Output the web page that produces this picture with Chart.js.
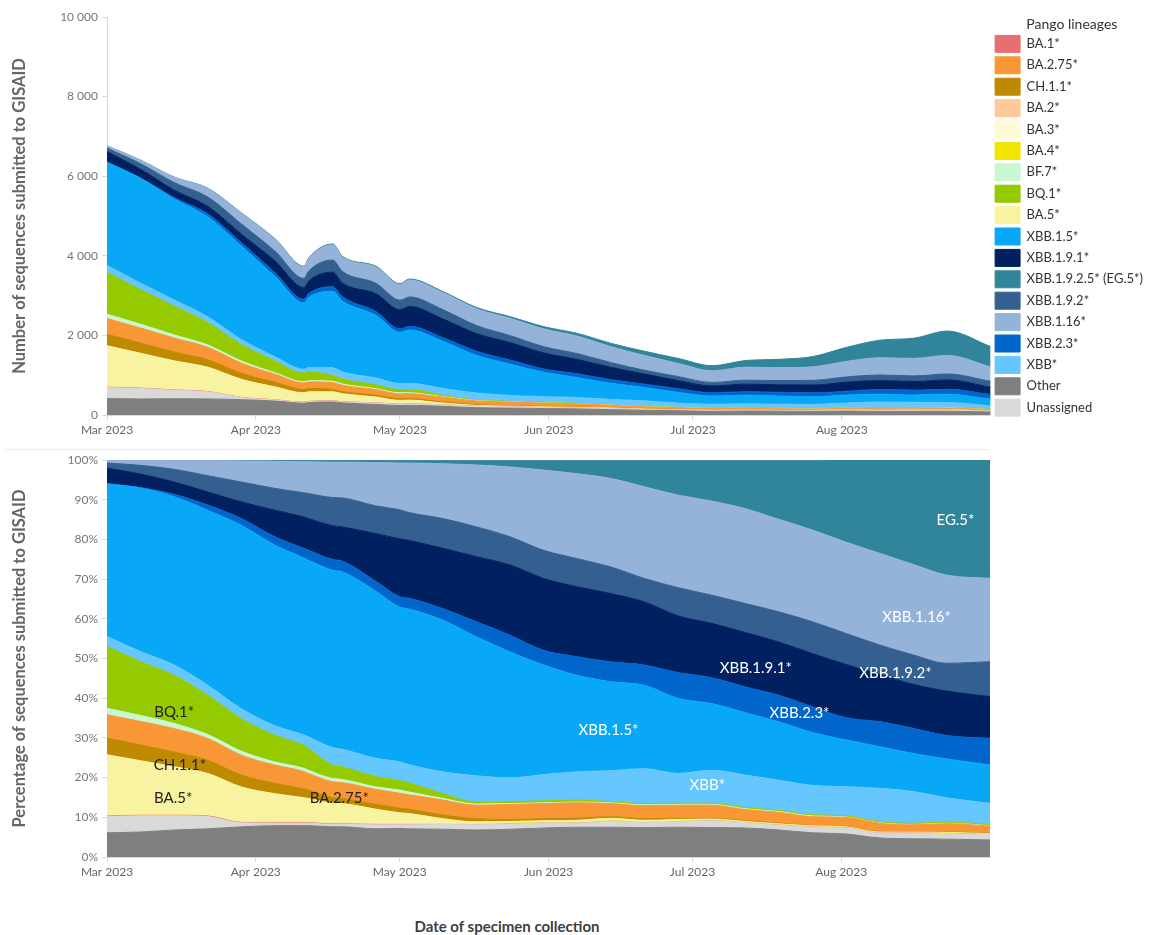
<!DOCTYPE html>
<html>
<head>
<meta charset="utf-8">
<script src="https://cdn.jsdelivr.net/npm/chart.js@4"></script>
<style>
  body { margin: 0; background: #fff; width: 1170px; height: 935px; overflow: hidden; position: relative;
         font-family: Lato, "Liberation Sans", sans-serif; }
  #top { position: absolute; left: 0; top: 0; }
  #bottom { position: absolute; left: 0; top: 445px; }
  #sep { position: absolute; left: 4px; top: 449px; width: 986px; height: 1px; background: #ececec; }
  #xtitle { position: absolute; left: 0; width: 1014px; top: 917px; text-align: center;
            font-size: 15px; font-weight: bold; color: #404040; }
</style>
</head>
<body>
<canvas id="top" width="1170" height="445"></canvas>
<div id="sep"></div>
<canvas id="bottom" width="1000" height="442"></canvas>
<div id="xtitle">Date of specimen collection</div>
<script>
// sample dates, as days since 1 Mar 2023
var days = [0, 7, 14, 21, 28, 35, 41, 42, 47, 49, 56, 61, 63, 70, 77, 84, 91, 98, 105, 112, 119, 126, 133, 140, 147, 154, 161, 168, 175, 184];
var monthTicks = [0, 31, 61, 92, 122, 153];
var monthLabels = ['Mar 2023', 'Apr 2023', 'May 2023', 'Jun 2023', 'Jul 2023', 'Aug 2023'];

// total sequences submitted (top panel envelope)
var totals = [6760, 6400, 5980, 5700, 5080, 4430, 3740, 3950, 4300, 3990, 3740, 3300, 3420, 3100, 2700, 2470, 2220, 2050, 1800, 1600, 1420, 1240, 1370, 1400, 1470, 1700, 1880, 1930, 2110, 1720];

// share of each lineage, % (bottom panel)
var other      = [6.1, 6.3, 6.8, 7.1, 7.6, 7.9, 7.9, 7.9, 7.6, 7.6, 7.1, 7.2, 7.1, 7.0, 6.8, 7.0, 7.3, 7.5, 7.5, 7.4, 7.5, 7.4, 7.3, 6.8, 6.1, 5.8, 4.8, 4.6, 4.5, 4.3];
var unassigned = [4.1, 4.1, 3.6, 3.1, 1.0, 0.6, 0.6, 0.6, 0.6, 0.6, 1.0, 0.9, 1.0, 1.2, 1.3, 1.3, 1.2, 1.0, 1.5, 1.2, 1.3, 1.7, 1.3, 1.2, 1.4, 1.5, 1.2, 1.4, 1.4, 1.3];
var ba1        = [0.1, 0.1, 0.1, 0.1, 0.1, 0.1, 0.1, 0.1, 0.1, 0.1, 0.1, 0.1, 0.1, 0, 0, 0, 0, 0, 0, 0, 0, 0, 0, 0, 0, 0, 0, 0, 0, 0];
var ba2        = [0.05, 0.05, 0.05, 0.05, 0.05, 0.05, 0.05, 0.05, 0.05, 0.05, 0.05, 0.05, 0.05, 0.05, 0.05, 0.05, 0.05, 0.05, 0.05, 0.05, 0.05, 0.05, 0.05, 0.05, 0.05, 0.05, 0.05, 0.05, 0.05, 0.05];
var ba3        = [0, 0, 0, 0, 0, 0, 0, 0, 0, 0, 0, 0, 0, 0, 0, 0, 0, 0, 0, 0, 0, 0, 0, 0, 0, 0, 0, 0, 0, 0];
var ba4        = [0, 0, 0, 0, 0, 0, 0, 0, 0, 0, 0, 0, 0, 0, 0.1, 0.1, 0.1, 0.1, 0.1, 0.1, 0.1, 0.1, 0.1, 0.1, 0.1, 0.1, 0.1, 0.1, 0.1, 0.1];
var ba5        = [15.4, 13.7, 12.2, 10.7, 8.9, 7.3, 6.3, 6.1, 5.2, 5.1, 3.8, 2.9, 2.7, 1.4, 0.6, 0.5, 0.5, 0.6, 0.6, 0.5, 0.5, 0.3, 0.2, 0.2, 0.2, 0.15, 0.15, 0.15, 0.15, 0.15];
var ch11       = [4.2, 4.0, 3.7, 3.3, 3.0, 2.6, 2.2, 2.1, 1.4, 1.3, 1.2, 1.2, 1.1, 0.9, 0.8, 0.5, 0.5, 0.5, 0.4, 0.4, 0.3, 0.2, 0.2, 0.2, 0.1, 0.1, 0.1, 0.1, 0.1, 0.1];
var ba275      = [5.9, 5.9, 5.9, 5.5, 5.0, 4.6, 4.4, 4.2, 4.0, 4.0, 3.8, 3.7, 3.6, 3.8, 3.4, 3.8, 3.8, 3.9, 3.3, 3.3, 3.3, 3.3, 2.8, 2.7, 2.2, 2.3, 2.1, 1.7, 2.1, 1.8];
var bf7        = [1.6, 1.5, 1.3, 1.0, 1.0, 0.8, 0.8, 0.8, 0.8, 0.8, 0.6, 0.8, 0.7, 0.4, 0.3, 0.2, 0.2, 0.2, 0.2, 0.2, 0.2, 0.2, 0.2, 0.2, 0.2, 0.1, 0.1, 0.1, 0.1, 0.1];
var bq1        = [15.6, 13.6, 12.1, 9.9, 8.2, 6.7, 5.8, 5.5, 3.4, 3.2, 2.6, 2.4, 2.3, 1.2, 0.5, 0.5, 0.5, 0.5, 0.3, 0.3, 0.3, 0.3, 0.3, 0.3, 0.3, 0.3, 0.3, 0.3, 0.3, 0.3];
var xbb        = [2.5, 2.5, 2.6, 2.5, 2.5, 2.4, 2.6, 2.9, 4.4, 4.4, 4.6, 4.7, 4.6, 5.5, 6.6, 6.0, 6.6, 7.1, 7.8, 8.8, 7.5, 8.3, 8.2, 7.6, 7.4, 7.3, 8.4, 8.0, 6.1, 5.3];
var xbb15      = [38.4, 41.2, 42.4, 44.1, 46.2, 45.5, 44.6, 44.5, 44.7, 44.7, 42.1, 39.0, 39.2, 38.2, 35.0, 31.7, 27.6, 24.3, 22.4, 21.0, 18.9, 16.8, 15.7, 14.7, 13.3, 11.8, 10.5, 9.6, 9.8, 9.7];
var xbb23      = [0.1, 0.1, 0.6, 1.3, 1.7, 2.1, 2.4, 2.5, 2.7, 2.7, 2.5, 2.6, 2.7, 2.9, 3.8, 4.2, 3.7, 4.7, 5.0, 5.1, 6.5, 6.5, 6.5, 6.7, 6.5, 5.6, 6.3, 6.3, 5.9, 6.7];
var xbb191     = [3.9, 3.4, 3.1, 3.3, 4.2, 6.7, 7.9, 8.0, 8.5, 8.6, 12.0, 14.6, 14.6, 15.2, 16.4, 17.7, 18.1, 17.6, 17.2, 15.9, 14.3, 13.7, 13.7, 13.4, 13.4, 13.4, 11.9, 11.1, 11.2, 10.5];
var xbb192     = [1.3, 2.2, 3.2, 4.1, 5.0, 5.5, 6.1, 6.3, 7.1, 7.3, 7.0, 7.3, 7.0, 7.5, 7.5, 7.1, 7.1, 7.1, 6.7, 5.9, 7.1, 7.1, 7.3, 7.6, 8.0, 7.8, 7.4, 7.4, 7.0, 8.8];
var xbb116     = [0.8, 1.4, 2.3, 3.8, 5.3, 6.8, 7.8, 8.0, 8.9, 9.0, 10.9, 11.8, 12.5, 13.8, 15.6, 17.6, 20.2, 21.4, 22.3, 23.1, 23.3, 23.7, 23.9, 23.3, 23.1, 23.0, 23.1, 22.8, 22.2, 21.0];
var eg5        = [0, 0, 0, 0.1, 0.2, 0.3, 0.4, 0.4, 0.5, 0.5, 0.6, 0.7, 0.7, 0.9, 1.2, 1.7, 2.5, 3.4, 4.6, 6.7, 8.8, 10.3, 12.2, 14.9, 17.6, 20.7, 23.5, 26.3, 29.0, 29.8];

// stacking order, bottom to top
var lineages = [
  { name: 'Other', color: '#7f7f7f', pct: other },
  { name: 'Unassigned', color: '#d9d9d9', pct: unassigned },
  { name: 'BA.1*', color: '#e86f6f', pct: ba1 },
  { name: 'BA.2*', color: '#ffc999', pct: ba2 },
  { name: 'BA.3*', color: '#fffad6', pct: ba3 },
  { name: 'BA.4*', color: '#f0e400', pct: ba4 },
  { name: 'BA.5*', color: '#f8f3a0', pct: ba5 },
  { name: 'CH.1.1*', color: '#bf8900', pct: ch11 },
  { name: 'BA.2.75*', color: '#f99736', pct: ba275 },
  { name: 'BF.7*', color: '#c7f8d2', pct: bf7 },
  { name: 'BQ.1*', color: '#95c900', pct: bq1 },
  { name: 'XBB*', color: '#66c7ff', pct: xbb },
  { name: 'XBB.1.5*', color: '#08a8f7', pct: xbb15 },
  { name: 'XBB.2.3*', color: '#0066cc', pct: xbb23 },
  { name: 'XBB.1.9.1*', color: '#00205f', pct: xbb191 },
  { name: 'XBB.1.9.2*', color: '#335f91', pct: xbb192 },
  { name: 'XBB.1.16*', color: '#95b2d8', pct: xbb116 },
  { name: 'XBB.1.9.2.5* (EG.5*)', color: '#31859b', pct: eg5 }
];
var legendOrder = ['BA.1*', 'BA.2.75*', 'CH.1.1*', 'BA.2*', 'BA.3*', 'BA.4*', 'BF.7*', 'BQ.1*', 'BA.5*', 'XBB.1.5*',
  'XBB.1.9.1*', 'XBB.1.9.2.5* (EG.5*)', 'XBB.1.9.2*', 'XBB.1.16*', 'XBB.2.3*', 'XBB*', 'Other', 'Unassigned'];

// labels written on the percentage panel
var areaLabels = [
  { text: 'BQ.1*', day: 14, pct: 36.5, color: '#222' },
  { text: 'CH.1.1*', day: 15.2, pct: 23.2, color: '#222' },
  { text: 'BA.5*', day: 13.8, pct: 14.9, color: '#222' },
  { text: 'BA.2.75*', day: 48.4, pct: 14.9, color: '#222' },
  { text: 'XBB.1.5*', day: 104.5, pct: 32.0, color: '#fff' },
  { text: 'XBB*', day: 125.1, pct: 18.1, color: '#fff' },
  { text: 'XBB.1.9.1*', day: 135.2, pct: 47.6, color: '#fff' },
  { text: 'XBB.2.3*', day: 144.3, pct: 36.3, color: '#fff' },
  { text: 'XBB.1.9.2*', day: 164.3, pct: 46.3, color: '#fff' },
  { text: 'XBB.1.16*', day: 168.7, pct: 60.5, color: '#fff' },
  { text: 'EG.5*', day: 176.8, pct: 84.9, color: '#fff' }
];

var FONT = 'Lato, "Liberation Sans", sans-serif';
Chart.defaults.font.family = FONT;
Chart.defaults.color = '#666';

function makeSets(counts) {
  return lineages.map(function(l, k) {
    return {
      label: l.name,
      data: days.map(function(d, i) {
        return { x: d, y: counts ? l.pct[i] * totals[i] / 100 : l.pct[i] };
      }),
      backgroundColor: l.color,
      borderColor: l.color,
      borderWidth: 1,
      pointRadius: 0,
      cubicInterpolationMode: 'monotone',
      fill: k === 0 ? 'origin' : '-1'
    };
  });
}

function xAxis() {
  return {
    type: 'linear', min: 0, max: 184,
    afterBuildTicks: function(s) { s.ticks = monthTicks.map(function(v) { return { value: v }; }); },
    afterFit: function(s) { s.height = 30; },
    ticks: {
      autoSkip: false, maxRotation: 0, padding: 3, color: '#666', font: { size: 12 },
      callback: function(v) { return monthLabels[monthTicks.indexOf(v)]; }
    },
    grid: { drawOnChartArea: false, tickLength: 5, color: '#d9d9d9' },
    border: { color: '#d9d9d9' }
  };
}

function yAxis(max, step, fmt, title) {
  return {
    stacked: true, min: 0, max: max,
    afterFit: function(s) { s.width = 107; },
    ticks: { stepSize: step, padding: 4, color: '#777', font: { size: 12 }, callback: fmt },
    grid: { drawOnChartArea: false, tickLength: 5, color: '#d9d9d9' },
    border: { color: '#d9d9d9' },
    title: { display: true, text: title, color: '#666', font: { size: 16.5, weight: 'bold' }, padding: { top: 10, bottom: 0 } }
  };
}

var labelPlugin = {
  id: 'areaLabels',
  afterDatasetsDraw: function(chart) {
    var ctx = chart.ctx, xs = chart.scales.x, ys = chart.scales.y;
    ctx.save();
    ctx.font = '15px ' + FONT;
    ctx.textAlign = 'center';
    ctx.textBaseline = 'middle';
    areaLabels.forEach(function(a) {
      ctx.fillStyle = a.color;
      ctx.fillText(a.text, xs.getPixelForValue(a.day), ys.getPixelForValue(a.pct));
    });
    ctx.restore();
  }
};

new Chart(document.getElementById('top'), {
  type: 'line',
  data: { datasets: makeSets(true) },
  options: {
    responsive: false, animation: false,
    layout: { padding: { top: 17, right: 17, left: 0, bottom: 0 } },
    plugins: {
      tooltip: { enabled: false },
      legend: {
        position: 'right', align: 'start',
        title: { display: true, text: 'Pango lineages', color: '#333', font: { size: 14, lineHeight: 1 }, padding: 0 },
        labels: {
          boxWidth: 25, boxHeight: 17, padding: 4.4, color: '#333', font: { size: 13 },
          sort: function(a, b) { return legendOrder.indexOf(a.text) - legendOrder.indexOf(b.text); }
        }
      }
    },
    scales: {
      x: xAxis(),
      y: yAxis(10000, 2000, function(v) { return String(v).replace(/\B(?=(\d{3})+(?!\d))/g, ' '); },
        'Number of sequences submitted to GISAID')
    }
  }
});

new Chart(document.getElementById('bottom'), {
  type: 'line',
  data: { datasets: makeSets(false) },
  options: {
    responsive: false, animation: false,
    layout: { padding: { top: 15, right: 10, left: 0, bottom: 0 } },
    plugins: { legend: { display: false }, tooltip: { enabled: false } },
    scales: {
      x: xAxis(),
      y: yAxis(100, 10, function(v) { return v + '%'; }, 'Percentage of sequences submitted to GISAID')
    }
  },
  plugins: [labelPlugin]
});
</script>
</body>
</html>
